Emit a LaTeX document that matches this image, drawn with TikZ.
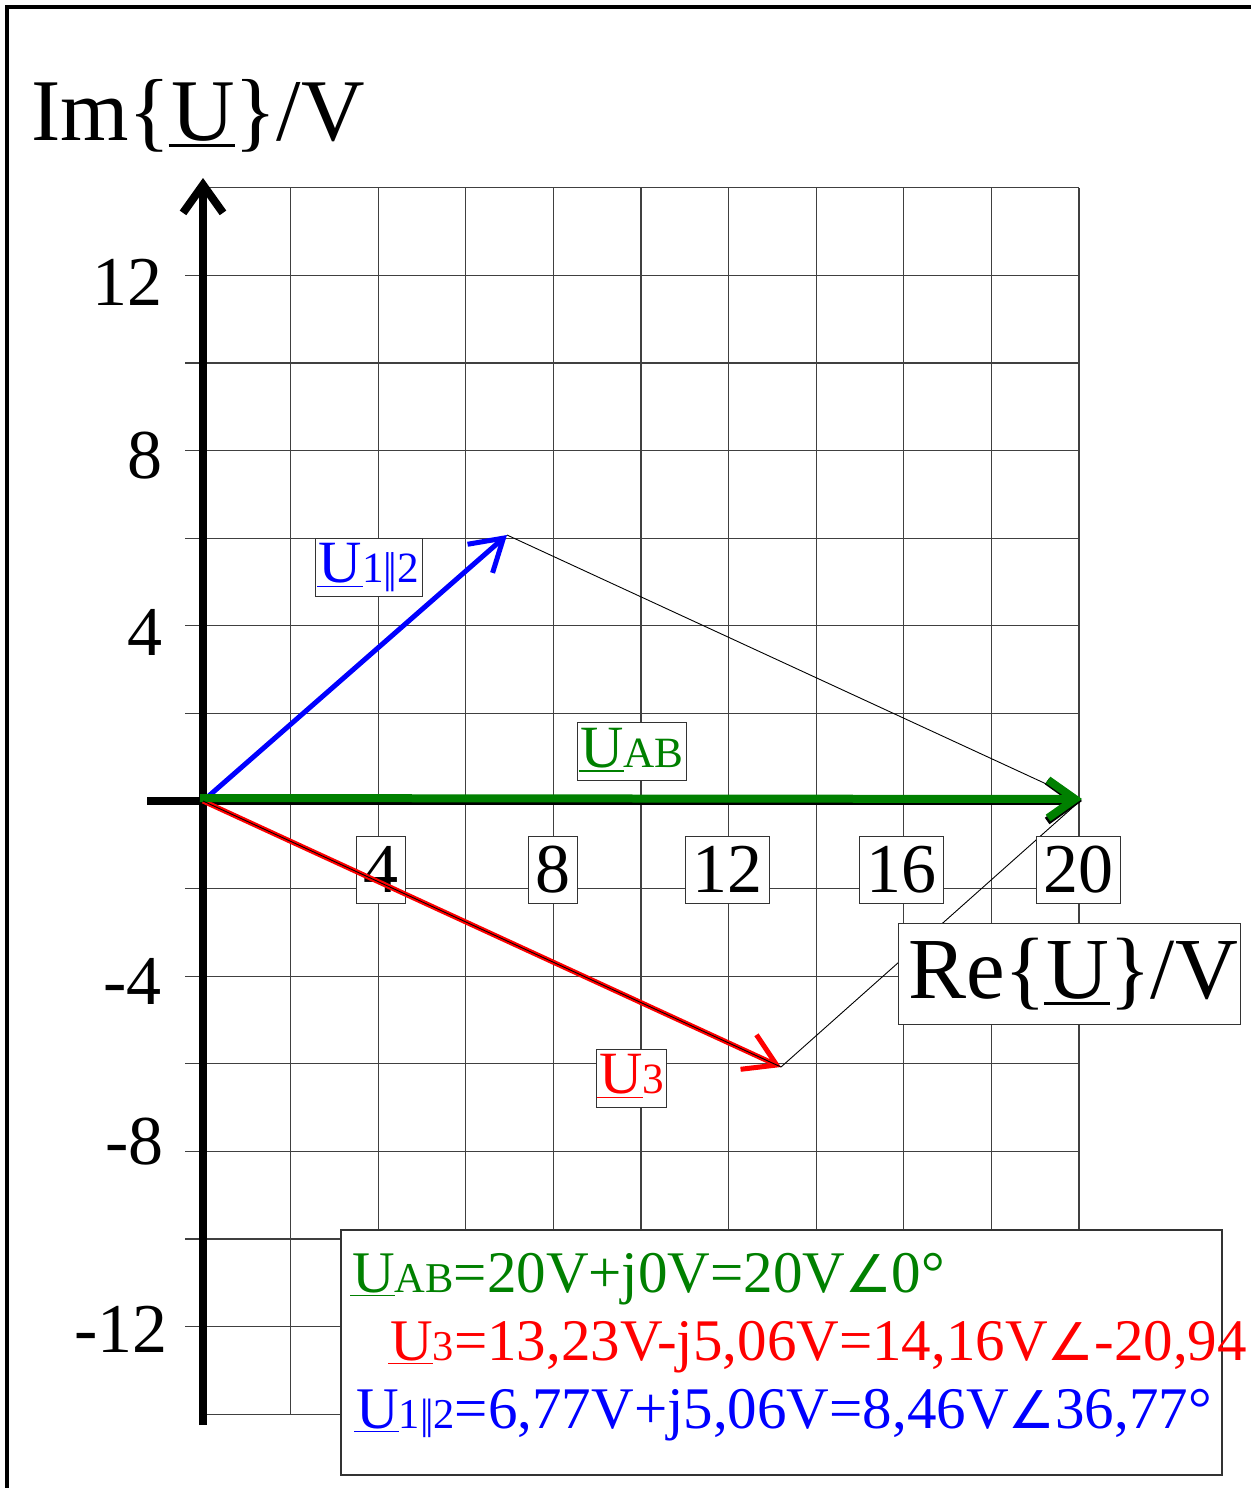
\documentclass[tikz,border=0pt]{standalone}
\usepackage{fontspec}
\usepackage{graphicx}
\setmainfont{Liberation Serif}
\newfontfamily\angfont{DejaVu Sans}
\usetikzlibrary{arrows.meta}
\definecolor{vgreen}{RGB}{0,128,0}
\newcommand\uU{\leavevmode\rlap{\kern-0.03em\rule[-0.075em]{0.76em}{0.024em}}U}
\newcommand\sbs[1]{\scalebox{0.72}{#1}}
\newcommand\dbar{|\kern-0.08em|}
\newcommand\ang{{\angfont\fontsize{52}{52}\selectfont ∠}}
\tikzset{
  gridline/.style={draw=black!75, line width=1.2pt},
  thinline/.style={draw=black, line width=0.9pt},
  lblbox/.style={draw=black!80, fill=white, line width=1pt, inner xsep=3pt, inner ysep=4.5pt,
    font=\fontsize{60}{60}\selectfont, text height=40pt, text depth=9pt},
  ticklbl/.style={draw=black!80, fill=white, line width=1pt, inner xsep=7pt, inner ysep=9pt,
    font=\fontsize{70}{70}\selectfont, text height=47pt, text depth=2pt},
  ylbl/.style={anchor=base east, inner sep=0pt, font=\fontsize{70}{70}\selectfont},
  legline/.style={anchor=base west, inner sep=0pt, font=\fontsize{59}{59}\selectfont},
  axisline/.style={draw=black, line width=8pt, -{Straight Barb[length=28pt,width=40pt]}},
  vecline/.style={line width=5pt, -{Straight Barb[length=31pt,width=38pt]}},
}
\begin{document}
\begin{tikzpicture}[x=1pt,y=-1pt]
\useasboundingbox (0,0) rectangle (1251,1488);
% frame
\draw[line width=3.5pt] (7,1488) -- (7,7) -- (1251,7);
% grid
\foreach \v in {-12,-10,...,12}{
  \draw[gridline] (185,{801-\v*43.8}) -- (1079,{801-\v*43.8});
}
\draw[gridline] (203,187.8) -- (1079,187.8);
\draw[gridline] (203,1414.2) -- (1079,1414.2);
\foreach \u in {2,4,...,20}{
  \draw[gridline] ({203+\u*43.8},187.8) -- ({203+\u*43.8},1414.2);
}
% points
\coordinate (O) at (203,801);
\coordinate (B) at (507,535);
\coordinate (R) at (781,1067);
\coordinate (G) at (1081,800);
\coordinate (Yb) at (203,1425);
\coordinate (Yt) at (203,178);
\coordinate (Xl) at (147,801);
\coordinate (Xr) at (1082,801);
% construction lines
\draw[thinline] (B) -- (G);
\draw[thinline] (R) -- (G);
% tick labels on Re axis
\node[ticklbl] (t4) at (381,869.5) {4};
\node[ticklbl] (t8) at (552.5,869.5) {8};
\node[ticklbl] (t12) at (727,869.5) {12};
\node[ticklbl] (t16) at (901,869.5) {16};
\node[ticklbl] (t20) at (1078,869.5) {20};
% axis title Re
\node[draw=black!80, fill=white, line width=1pt, minimum width=342pt, minimum height=101pt,
  inner sep=0pt, font=\fontsize{87}{87}\selectfont, text height=57pt, text depth=8pt] (re) at (1069,973.5)
  {\hspace*{8pt}Re\{\uU\}/V};
% vector labels
\node[lblbox, text=blue] (l12) at (369,567) {\uU\sbs{1\dbar2}};
\node[lblbox, text=vgreen] (lab) at (632,751.5) {\uU\sbs{AB}};
\node[lblbox, text=red] (l3) at (631.5,1078) {\uU\sbs{3}};
% axes
\draw[axisline] (Yb) -- (Yt);
\draw[axisline] (Xl) -- (Xr);
% vectors
\draw[vecline, draw=blue] (O) -- (B);
\draw[vecline, draw=red] (O) -- (R);
\draw[vecline, draw=vgreen, line width=8pt, -{Straight Barb[length=27pt,width=38pt]}] (200,798) -- (1082,799);
\draw[thinline] (O) -- (R);
% Im axis title
\node[anchor=base west, inner sep=0pt, font=\fontsize{88}{88}\selectfont] (im) at (31,140) {Im\{\uU\}/V};
% y tick labels
\node[ylbl] (y12) at (163,{275.4+30}) {12};
\node[ylbl] (y8) at (163,{450.6+28}) {8};
\node[ylbl] (y4) at (163,{625.8+30}) {4};
\node[ylbl] (ym4) at (162,{976.2+28}) {-4};
\node[ylbl] (ym8) at (164,{1151.4+13}) {-8};
\node[ylbl] (ym12) at (168,{1326.6+26}) {-12};
% legend
\node[draw=black!80, fill=white, line width=1.5pt, minimum width=881pt, minimum height=245pt,
  anchor=north west, inner sep=0pt] (legend) at (340,1229) {};
\node[legline, text=vgreen] (e1) at (352,1292) {\uU\sbs{AB}=20V+j0V=20V\ang0°};
\node[legline, text=red] (e2) at (390,1360) {\uU\sbs{3}=13,23V-j5,06V=14,16V\ang-20,94};
\node[legline, text=blue] (e3) at (356,1428) {\uU\sbs{1\dbar2}=6,77V+j5,06V=8,46V\ang36,77°};
\end{tikzpicture}
\end{document}
